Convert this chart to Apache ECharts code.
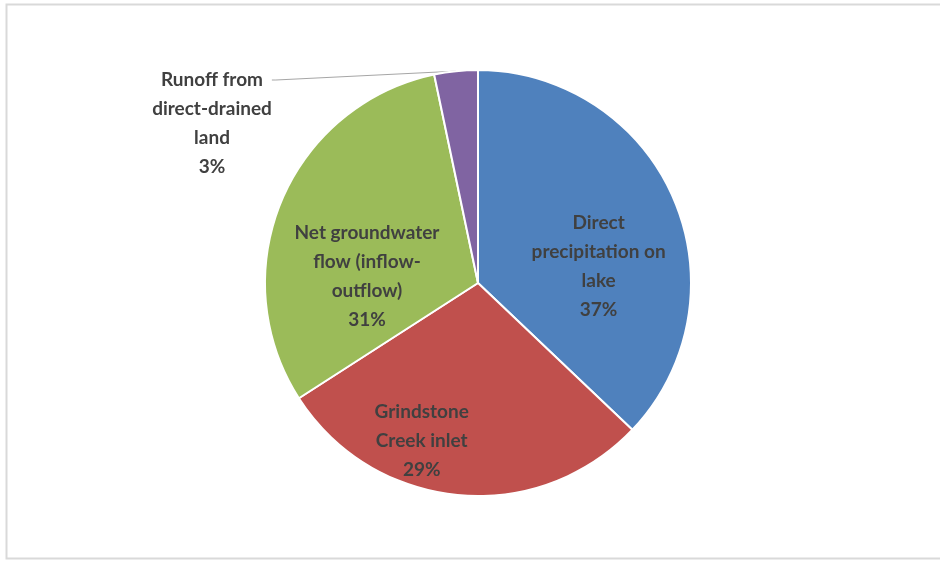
<!DOCTYPE html>
<html>
<head>
<meta charset="utf-8">
<script src="https://cdn.jsdelivr.net/npm/echarts@6/dist/echarts.min.js"></script>
<style>
html,body{margin:0;padding:0;background:#fff;}
#chart{width:940px;height:561px;}
</style>
</head>
<body>
<div id="chart"></div>
<script>
const categories = ['Direct\nprecipitation on\nlake', 'Grindstone\nCreek inlet', 'Net groundwater\nflow (inflow-\noutflow)', 'Runoff from\ndirect-drained\nland'];
const values = [37.1, 28.8, 30.8, 3.3];
const colors = ['#4F81BD', '#C0504D', '#9BBB59', '#8064A2'];
const labelOffsets = [[20, 27], [-46, 49], [-10, 36], null];

const chart = echarts.init(document.getElementById('chart'));
const data = categories.map((name, i) => {
  const d = { name: name, value: values[i], itemStyle: { color: colors[i] } };
  if (labelOffsets[i]) {
    d.label = { position: 'inside', offset: labelOffsets[i] };
    d.labelLine = { show: false };
  } else {
    // blank lines on top keep the leader line attached at the first text line
    d.label = { position: 'outside', formatter: p => '\n\n\n' + p.name + '\n' + Math.round(p.value) + '%' };
    d.labelLine = { show: true, length: 4, length2: 4, lineStyle: { color: '#a6a6a6', width: 1 } };
  }
  return d;
});

chart.setOption({
  backgroundColor: '#fff',
  animation: false,
  graphic: [{
    type: 'rect',
    shape: { x: 6.5, y: 4.5, width: 980, height: 554 },
    style: { fill: 'none', stroke: '#d9d9d9', lineWidth: 2 },
    z: -1
  }],
  series: [{
    type: 'pie',
    center: [478, 283],
    radius: 213,
    startAngle: 90,
    clockwise: true,
    itemStyle: { borderColor: '#fff', borderWidth: 2 },
    label: {
      show: true,
      formatter: p => p.name + '\n' + Math.round(p.value) + '%',
      fontFamily: 'Lato',
      fontWeight: 'bold',
      fontSize: 19,
      lineHeight: 29,
      color: '#404040',
      align: 'center'
    },
    labelLayout: function (params) {
      if (params.dataIndex === 3) {
        return { x: 212, y: 80, align: 'center', verticalAlign: 'middle' };
      }
      return {};
    },
    data: data
  }]
});
</script>
</body>
</html>
